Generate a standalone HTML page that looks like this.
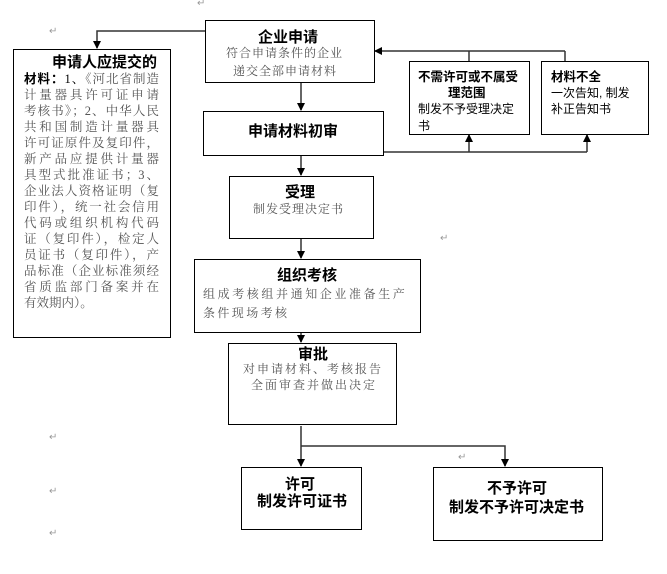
<!DOCTYPE html>
<html><head><meta charset="utf-8"><style>
body{margin:0;width:667px;height:574px;background:#fff;position:relative;overflow:hidden;font-family:"Liberation Sans","Noto Sans CJK SC","WenQuanYi Zen Hei",sans-serif;}
.b{position:absolute;border:1.5px solid #000;box-sizing:border-box;background:#fff;}
.t{position:absolute;white-space:nowrap;}
.h{font-weight:bold;color:#000;font-size:14px;}
.g{color:#555;font-size:12px;letter-spacing:1px;font-family:"Liberation Serif","Noto Serif CJK SC",serif;}
.k{color:#000;font-size:12px;}
.r{position:absolute;color:#999;font-size:10px;}
.L{position:absolute;left:24px;width:135px;font-size:12.5px;color:#555;text-align:justify;text-align-last:justify;white-space:nowrap;line-height:16px;font-family:"Liberation Serif","Noto Serif CJK SC",serif;}
</style></head><body>
<svg width="667" height="574" style="position:absolute;left:0;top:0">
<defs>
<marker id="u" markerWidth="8" markerHeight="8" refX="7" refY="4" orient="auto" markerUnits="userSpaceOnUse"><path d="M0,0 L8,4 L0,8 z" fill="#000"/></marker></defs>
<g stroke="#333" stroke-width="1.5" fill="none">
<polyline points="205,31 97,31 97,48" marker-end="url(#u)"/>
<line x1="301" y1="82" x2="301" y2="110" marker-end="url(#u)"/>
<line x1="301" y1="155" x2="301" y2="175" marker-end="url(#u)"/>
<line x1="301" y1="238" x2="301" y2="258" marker-end="url(#u)"/>
<line x1="301" y1="332" x2="301" y2="342" marker-end="url(#u)"/>
<line x1="301" y1="426" x2="301" y2="466" marker-end="url(#u)"/>
<polyline points="301,446 505,446 505,466" marker-end="url(#u)"/>
<line x1="565" y1="51" x2="375" y2="51" marker-end="url(#u)"/>
<line x1="469" y1="51" x2="469" y2="61"/>
<line x1="565" y1="51" x2="565" y2="61"/>
<line x1="383" y1="152" x2="587" y2="152"/>
<line x1="469" y1="152" x2="469" y2="135" marker-end="url(#u)"/>
<line x1="587" y1="152" x2="587" y2="135" marker-end="url(#u)"/>
</g></svg>

<div class="b" style="left:205px;top:20px;width:170px;height:63px"></div>
<div class="t h" style="left:258px;top:26px;font-size:15px">企业申请</div>
<div class="t g" style="left:226px;top:44px">符合申请条件的企业</div>
<div class="t g" style="left:233px;top:62px">递交全部申请材料</div>

<div class="b" style="left:13px;top:49px;width:158px;height:289px"></div>
<div class="t h" style="left:52px;top:51px;font-size:15px">申请人应提交的</div>
<div class="L" style="top:71px"><b style="color:#000;font-family:'Liberation Sans','Noto Sans CJK SC',sans-serif">材料：</b><span style="color:#000">1、</span>《河北省制造</div>
<div class="L" style="top:87px">计量器具许可证申请</div>
<div class="L" style="top:103px">考核书》；2、中华人民</div>
<div class="L" style="top:119px">共和国制造计量器具</div>
<div class="L" style="top:135px">许可证原件及复印件，</div>
<div class="L" style="top:151px">新产品应提供计量器</div>
<div class="L" style="top:167px">具型式批准证书；3、</div>
<div class="L" style="top:183px">企业法人资格证明（复</div>
<div class="L" style="top:199px">印件），统一社会信用</div>
<div class="L" style="top:215px">代码或组织机构代码</div>
<div class="L" style="top:231px">证（复印件），检定人</div>
<div class="L" style="top:247px">员证书（复印件），产</div>
<div class="L" style="top:263px">品标准（企业标准须经</div>
<div class="L" style="top:279px">省质监部门备案并在</div>
<div class="L" style="top:295px;text-align-last:left">有效期内）。</div>

<div class="b" style="left:203px;top:111px;width:181px;height:45px"></div>
<div class="t h" style="left:248px;top:120px;font-size:15px">申请材料初审</div>

<div class="b" style="left:229px;top:176px;width:145px;height:63px"></div>
<div class="t h" style="left:285px;top:181px;font-size:15px">受理</div>
<div class="t g" style="left:253px;top:200px">制发受理决定书</div>

<div class="b" style="left:194px;top:259px;width:227px;height:74px"></div>
<div class="t h" style="left:277px;top:264px;font-size:15px">组织考核</div>
<div class="t g" style="left:203px;top:285px;letter-spacing:2.6px">组成考核组并通知企业准备生产</div>
<div class="t g" style="left:203px;top:304px;letter-spacing:2.4px">条件现场考核</div>

<div class="b" style="left:228px;top:343px;width:169px;height:82px"></div>
<div class="t h" style="left:298px;top:343px;font-size:15px">审批</div>
<div class="t g" style="left:243px;top:360px;letter-spacing:2px">对申请材料、考核报告</div>
<div class="t g" style="left:251px;top:376px;letter-spacing:2px">全面审查并做出决定</div>

<div class="b" style="left:409px;top:61px;width:121px;height:74px"></div>
<div class="t h" style="left:418px;top:66px;font-size:12.5px">不需许可或不属受</div>
<div class="t h" style="left:448px;top:82px;font-size:12.5px">理范围</div>
<div class="t k" style="left:418px;top:100px">制发不予受理决定</div>
<div class="t k" style="left:418px;top:117px">书</div>

<div class="b" style="left:541px;top:61px;width:108px;height:74px"></div>
<div class="t h" style="left:551px;top:66px;font-size:12.5px">材料不全</div>
<div class="t k" style="left:551px;top:84px">一次告知, 制发</div>
<div class="t k" style="left:551px;top:100px">补正告知书</div>

<div class="b" style="left:241px;top:467px;width:121px;height:63px"></div>
<div class="t h" style="left:285px;top:473px;font-size:15px">许可</div>
<div class="t h" style="left:257px;top:490px;font-size:15px">制发许可证书</div>

<div class="b" style="left:433px;top:467px;width:170px;height:74px"></div>
<div class="t h" style="left:487px;top:477px;font-size:15px">不予许可</div>
<div class="t h" style="left:449px;top:496px;font-size:15px">制发不予许可决定书</div>

<div class="r" style="left:197px;top:-2px">↵</div>
<div class="r" style="left:49px;top:26px">↵</div>
<div class="r" style="left:440px;top:233px">↵</div>
<div class="r" style="left:49px;top:432px">↵</div>
<div class="r" style="left:49px;top:486px">↵</div>
<div class="r" style="left:49px;top:528px">↵</div>
<div class="r" style="left:458px;top:452px">↵</div>
</body></html>
